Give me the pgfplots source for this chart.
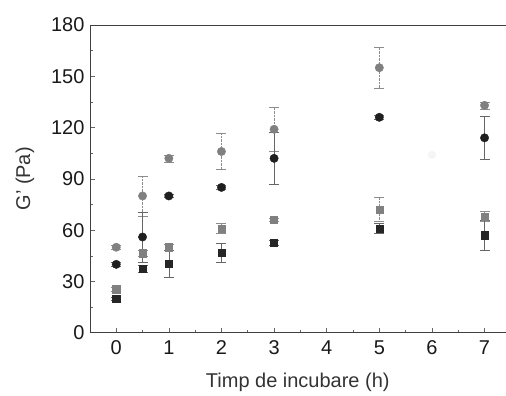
\documentclass[border=0pt]{standalone}
\usepackage{pgfplots}
\pgfplotsset{compat=1.18}
\usepackage{fontspec}
\setmainfont{Liberation Sans}
\begin{document}
\begin{tikzpicture}
\begin{axis}[
  scale only axis,
  width=416pt, height=308pt,
  xmin=-0.5, xmax=7.4, ymin=0, ymax=180,
  axis x line*=box, axis y line*=left,
  xtick={0,1,...,7}, ytick={0,30,...,180},
  minor x tick num=1, minor y tick num=1,
  xtick pos=bottom,
  tick align=inside,
  major tick length=5pt, minor tick length=3pt,
  axis line style={line width=0.8pt, black!75},
  tick style={black!60, line width=0.6pt},
  ticklabel style={font=\fontsize{20}{20}\selectfont, text=black!90},
  xticklabel style={yshift=-4pt},
  yticklabel style={xshift=-2pt},
  /pgf/number format/assume math mode=true,
  xlabel={Timp de incubare (h)},
  ylabel={G' (Pa)},
  label style={font=\fontsize{20}{20}\selectfont, text=black!80},
  xlabel style={yshift=-12pt},
  ylabel style={yshift=10pt},
  error bars/y dir=both, error bars/y explicit,
]
% grey circles
\addplot[only marks, mark=*, mark size=4.2pt, color=black!50,
  error bars/error bar style={black!45, densely dotted, line width=0.7pt},
  error bars/error mark options={rotate=90, mark size=5pt, black!45, solid}]
  coordinates {(0,50)+-(0,1) (0.5,80)+-(0,11.7) (1,102)+-(0,2) (2,106)+-(0,10.5)
    (3,119)+-(0,13) (5,155)+-(0,12) (7,133)+-(0,2)};
% black circles
\addplot[only marks, mark=*, mark size=4.2pt, color=black!88,
  error bars/error bar style={black!60, line width=0.7pt},
  error bars/error mark options={rotate=90, mark size=5pt, black!60}]
  coordinates {(0,40)+-(0,1) (0.5,56)+-(0,14.5) (1,80)+-(0,1) (2,85)+-(0,1)
    (3,102)+-(0,15) (5,126)+-(0,1) (7,114)+-(0,12.5)};
% grey squares
\addplot[only marks, mark=square*, mark size=3.6pt, color=black!50,
  error bars/error bar style={black!45, densely dotted, line width=0.7pt},
  error bars/error mark options={rotate=90, mark size=5pt, black!45, solid}]
  coordinates {(0,25.5)+-(0,1) (0.5,46.5)+-(0,2) (1,50)+-(0,2) (2,61)+-(0,3)
    (3,66)+-(0,1) (5,72)+-(0,7) (7,68)+-(0,3)};
% black squares
\addplot[only marks, mark=square*, mark size=3.6pt, color=black!85,
  error bars/error bar style={black!60, line width=0.7pt},
  error bars/error mark options={rotate=90, mark size=5pt, black!60}]
  coordinates {(0,20)+-(0,1) (0.5,37.5)+-(0,2) (1,40.5)+-(0,8) (2,47)+-(0,5.5)
    (3,52.5)+-(0,1.5) (5,61)+-(0,3) (7,57)+-(0,9)};
% faint point
\addplot[only marks, mark=*, mark size=4pt, color=black!4] coordinates {(6,104)};
\end{axis}
\path[use as bounding box] ([xshift=-90pt,yshift=-62pt]current axis.south west) rectangle ([yshift=25pt]current axis.north east);
\end{tikzpicture}
\end{document}
